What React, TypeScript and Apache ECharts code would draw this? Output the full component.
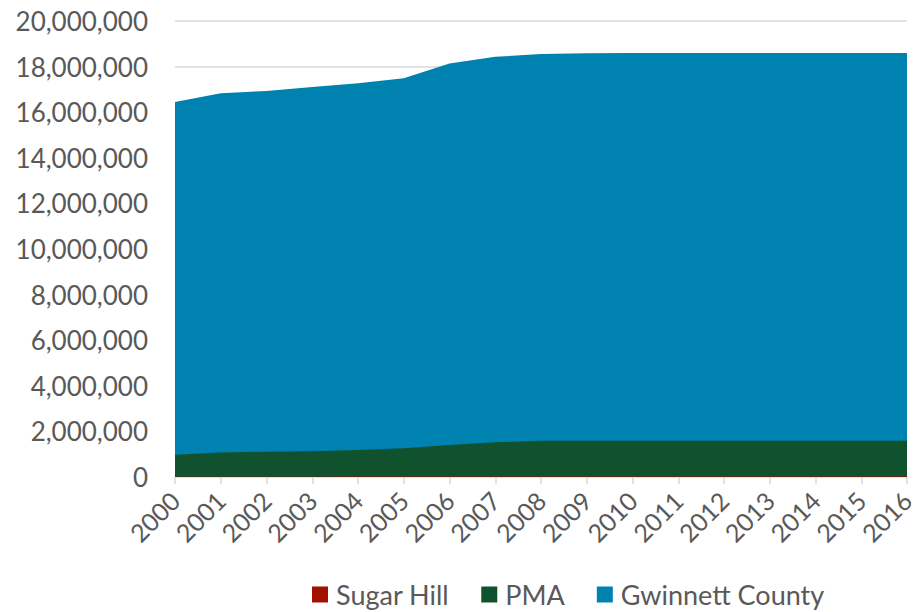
import React, { useEffect, useRef } from "react";
import * as echarts from "echarts";

const years = ["2000","2001","2002","2003","2004","2005","2006","2007","2008","2009","2010","2011","2012","2013","2014","2015","2016"];
const sugarHill = [11400, 13500, 14800, 15600, 16500, 17300, 18200, 18900, 19400, 19700, 19800, 20000, 20300, 20600, 21000, 21400, 21800];
const pma = [980000, 1080000, 1110000, 1130000, 1180000, 1260000, 1400000, 1520000, 1590000, 1590000, 1590000, 1590000, 1590000, 1590000, 1590000, 1590000, 1590000];
const gwinnett = [16450000, 16830000, 16930000, 17100000, 17270000, 17490000, 18140000, 18430000, 18550000, 18590000, 18600000, 18600000, 18600000, 18600000, 18600000, 18600000, 18600000];
const yTicks = { min: 0, max: 20000000, interval: 2000000 };

const FONT = "Lato, 'Open Sans', sans-serif";

export default function App() {
  const ref = useRef<HTMLDivElement>(null);
  useEffect(() => {
    if (!ref.current) return;
    const chart = echarts.init(ref.current, undefined, { renderer: "svg" });
    const areaSeries = (name: string, data: number[], color: string, z: number) => ({
      name,
      type: "line",
      data,
      z,
      showSymbol: false,
      symbol: "none",
      lineStyle: { width: 0, color },
      itemStyle: { color },
      areaStyle: { color, opacity: 1 },
    });
    chart.setOption({
      animation: false,
      textStyle: { fontFamily: FONT },
      grid: { left: 175, right: 15, top: 21, bottom: 135, containLabel: false },
      legend: {
        data: ["Sugar Hill", "PMA", "Gwinnett County"],
        top: 576,
        left: 307,
        icon: "rect",
        itemWidth: 16,
        itemHeight: 16,
        itemGap: 32,
        textStyle: { fontSize: 27, color: "#595959", fontFamily: FONT, padding: [0, 0, 0, 3] },
      },
      xAxis: {
        type: "category",
        data: years,
        boundaryGap: false,
        axisLine: { lineStyle: { color: "#d9d9d9", width: 1.5 } },
        axisTick: { show: true, alignWithLabel: true, length: 7, lineStyle: { color: "#d9d9d9", width: 1.5 } },
        axisLabel: { rotate: 45, fontSize: 25, color: "#595959", margin: 19, interval: 0, fontFamily: FONT },
        splitLine: { show: false },
      },
      yAxis: {
        type: "value",
        min: yTicks.min,
        max: yTicks.max,
        interval: yTicks.interval,
        axisLine: { show: false },
        axisTick: { show: false },
        axisLabel: {
          fontSize: 26,
          color: "#595959",
          margin: 27,
          fontFamily: FONT,
          formatter: (v: number) => v.toLocaleString("en-US"),
        },
        splitLine: { lineStyle: { color: "#d9d9d9", width: 1.5 } },
      },
      series: [
        areaSeries("Gwinnett County", gwinnett, "#0082B0", 2),
        areaSeries("PMA", pma, "#10522D", 3),
        areaSeries("Sugar Hill", sugarHill, "#A31000", 4),
      ],
    });
    return () => chart.dispose();
  }, []);
  return <div ref={ref} style={{ width: 922, height: 612, position: "absolute", left: 0, top: 0, background: "#fff" }} />;
}
